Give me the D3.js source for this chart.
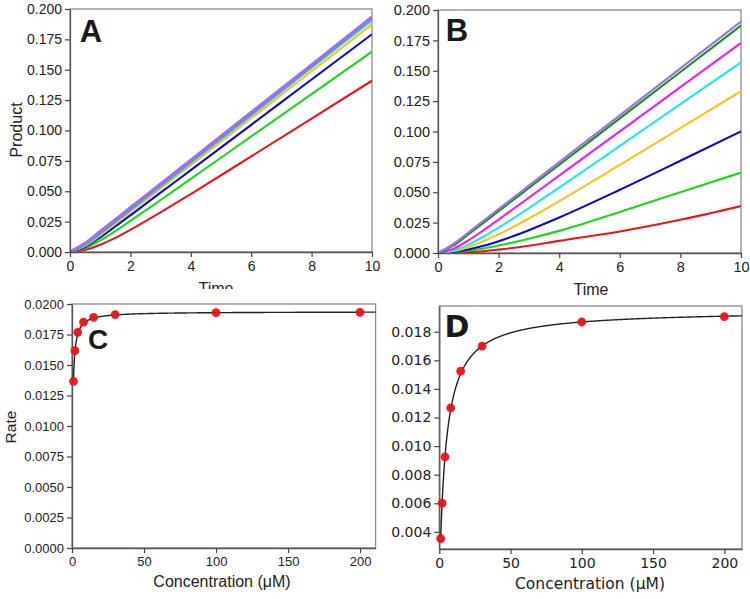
<!DOCTYPE html>
<html>
<head>
<meta charset="utf-8">
<script src="https://cdn.jsdelivr.net/npm/d3@7/dist/d3.min.js"></script>
<style>
  html, body { margin: 0; padding: 0; background: #fff; }
  svg { display: block; }
</style>
</head>
<body>
<svg id="chart" width="750" height="599"></svg>
<script>
// ---------------- DATA ----------------
const times = [0, 0.5, 1, 1.5, 2, 3, 4, 6, 8, 10];
const seriesColors = ["#e8161b", "#1ed41e", "#0a0acd", "#f7c31c", "#24e4ec", "#ec1ee6", "#1e8c1e", "#9b74dc"];

// Panel A: product vs time
const productA_red     = [0, 0.0017, 0.0059, 0.0116, 0.0182, 0.0326, 0.0477, 0.0787, 0.1098, 0.1410];
const productA_green   = [0, 0.0030, 0.0094, 0.0172, 0.0256, 0.0428, 0.0602, 0.0951, 0.1300, 0.1649];
const productA_blue    = [0, 0.0041, 0.0121, 0.0210, 0.0302, 0.0488, 0.0674, 0.1047, 0.1420, 0.1792];
const productA_gold    = [0, 0.0050, 0.0137, 0.0232, 0.0329, 0.0522, 0.0715, 0.1101, 0.1488, 0.1874];
const productA_cyan    = [0, 0.0055, 0.0147, 0.0244, 0.0342, 0.0537, 0.0732, 0.1123, 0.1514, 0.1904];
const productA_magenta = [0, 0.0062, 0.0157, 0.0255, 0.0353, 0.0549, 0.0745, 0.1137, 0.1530, 0.1922];
const productA_dkgreen = [0, 0.0066, 0.0163, 0.0261, 0.0359, 0.0555, 0.0751, 0.1143, 0.1535, 0.1927];
const productA_purple  = [0, 0.0070, 0.0167, 0.0265, 0.0363, 0.0559, 0.0755, 0.1147, 0.1539, 0.1932];

// Panel B: product vs time
const productB_red     = [0, 0.0002, 0.0007, 0.0015, 0.0028, 0.0060, 0.0100, 0.0177, 0.0273, 0.0386];
const productB_green   = [0, 0.0005, 0.0018, 0.0037, 0.0061, 0.0118, 0.0182, 0.0338, 0.0500, 0.0662];
const productB_blue    = [0, 0.0008, 0.0029, 0.0059, 0.0097, 0.0188, 0.0292, 0.0520, 0.0759, 0.1001];
const productB_gold    = [0, 0.0014, 0.0048, 0.0096, 0.0153, 0.0284, 0.0427, 0.0725, 0.1028, 0.1332];
const productB_cyan    = [0, 0.0021, 0.0069, 0.0134, 0.0208, 0.0370, 0.0538, 0.0881, 0.1225, 0.1569];
const productB_magenta = [0, 0.0034, 0.0103, 0.0187, 0.0275, 0.0455, 0.0637, 0.1001, 0.1365, 0.1729];
const productB_dkgreen = [0, 0.0060, 0.0153, 0.0248, 0.0344, 0.0535, 0.0726, 0.1108, 0.1490, 0.1872];
const productB_purple  = [0, 0.0072, 0.0168, 0.0264, 0.0361, 0.0554, 0.0747, 0.1133, 0.1519, 0.1905];

// Panels C & D: rate vs concentration
const concentrations = [1, 2, 4, 8, 15, 30, 100, 200];
const rateC = [0.01366, 0.01617, 0.01768, 0.01852, 0.01891, 0.01913, 0.01929, 0.01932];
const rateD = [0.00353, 0.00601, 0.00924, 0.01267, 0.01524, 0.01699, 0.01868, 0.01905];
// Michaelis-Menten fit parameters [C, D]
const fitVmax = [0.01937, 0.01951];
const fitKm = [0.42, 4.43];

// Tick labels
const timeTicks = [0, 2, 4, 6, 8, 10];
const productTicks = [0, 0.025, 0.05, 0.075, 0.1, 0.125, 0.15, 0.175, 0.2];
const concTicks = [0, 50, 100, 150, 200];
const rateTicksC = [0, 0.0025, 0.005, 0.0075, 0.01, 0.0125, 0.015, 0.0175, 0.02];
const rateTicksD = [0.004, 0.006, 0.008, 0.010, 0.012, 0.014, 0.016, 0.018];

// ---------------- DRAW ----------------
const svg = d3.select("#chart");
const HELV = "'Liberation Sans', Arial, Helvetica, sans-serif";
const DEJA = "'DejaVu Sans', sans-serif";
const textColor = "#222";

function frame(g, x0, x1, y0, y1) {
  g.append("rect").attr("x", x0).attr("y", y1).attr("width", x1 - x0).attr("height", y0 - y1)
    .attr("fill", "none").attr("stroke", "#8c8c8c").attr("stroke-width", 1.3);
}

function axes(g, x, y, xt, yt, xfmt, yfmt, font, fsize) {
  const yr = y.range(), xr = x.range();
  const ax = g.append("g").attr("transform", `translate(0,${yr[0]})`)
    .call(d3.axisBottom(x).tickValues(xt).tickFormat(xfmt).tickSize(5).tickPadding(4).tickSizeOuter(0));
  const ay = g.append("g").attr("transform", `translate(${xr[0]},0)`)
    .call(d3.axisLeft(y).tickValues(yt).tickFormat(yfmt).tickSize(5).tickPadding(3).tickSizeOuter(0));
  [ax, ay].forEach(a => {
    a.select(".domain").attr("stroke", "#555").attr("stroke-width", 1.3);
    a.selectAll(".tick line").attr("stroke", "#444").attr("stroke-width", 1.2);
    a.selectAll(".tick text").attr("fill", textColor).style("font-family", font).style("font-size", fsize + "px");
  });
}

function label(txt, x, y, size, font, opts = {}) {
  const t = svg.append("text").attr("x", x).attr("y", y).text(txt)
    .attr("fill", opts.fill || textColor)
    .style("font-family", font).style("font-size", size + "px")
    .attr("text-anchor", opts.anchor || "middle");
  if (opts.bold) t.style("font-weight", "bold");
  if (opts.rotate) t.attr("transform", `rotate(-90,${x},${y})`);
  return t;
}

function progressPanel(xr, yr, series, purpleWidth, ytickSize) {
  const x = d3.scaleLinear().domain([0, 10]).range(xr);
  const y = d3.scaleLinear().domain([0, 0.2]).range(yr);
  const g = svg.append("g");
  frame(g, xr[0], xr[1], yr[0], yr[1]);
  const clipId = "clip" + Math.round(xr[0]);
  svg.append("clipPath").attr("id", clipId).append("rect")
    .attr("x", xr[0]).attr("y", yr[1]).attr("width", xr[1] - xr[0]).attr("height", yr[0] - yr[1]);
  const line = d3.line().x((d, i) => x(times[i])).y(d => y(d)).curve(d3.curveMonotoneX);
  const lg = g.append("g").attr("clip-path", `url(#${clipId})`);
  series.forEach((s, i) => {
    lg.append("path").datum(s).attr("d", line).attr("fill", "none")
      .attr("stroke", seriesColors[i])
      .attr("stroke-width", i === series.length - 1 ? purpleWidth : 2.1)
      .attr("stroke-linejoin", "round");
  });
  axes(g, x, y, timeTicks, productTicks, d3.format("d"), d3.format(".3f"), HELV, ytickSize);
  return { x, y };
}

// Panel A
progressPanel([70, 372], [252, 9],
  [productA_red, productA_green, productA_blue, productA_gold, productA_cyan, productA_magenta, productA_dkgreen, productA_purple],
  3.4, 14);
label("A", 91, 42, 31, HELV, { bold: true, fill: "#1a1a1a" });
label("Product", 22, 130, 16, HELV, { rotate: true });
svg.append("clipPath").attr("id", "timeClipA").append("rect").attr("x", 150).attr("y", 270).attr("width", 140).attr("height", 19);
label("Time", 216, 294, 16, HELV).attr("clip-path", "url(#timeClipA)");

// Panel B
progressPanel([438, 741], [253, 10],
  [productB_red, productB_green, productB_blue, productB_gold, productB_cyan, productB_magenta, productB_dkgreen, productB_purple],
  2.2, 14.5);
label("B", 457, 41, 31, HELV, { bold: true, fill: "#1a1a1a" });
label("Time", 591, 295, 16, HELV);

// Rate panels
function ratePanel(xr, yr, ydom, rates, fi, yticks, yfmt, font, fsize) {
  const x = d3.scaleLinear().domain([0, xr[2]]).range([xr[0], xr[1]]);
  const y = d3.scaleLinear().domain(ydom).range(yr);
  const g = svg.append("g");
  frame(g, xr[0], xr[1], yr[0], yr[1]);
  axes(g, x, y, concTicks, yticks, d3.format("d"), yfmt, font, fsize);
  const cs = d3.range(concentrations[0], xr[2] + 0.001, 0.1);
  const fit = d3.line().x(c => x(c)).y(c => y(fitVmax[fi] * c / (fitKm[fi] + c)));
  g.append("path").datum(cs).attr("d", fit).attr("fill", "none").attr("stroke", "#222").attr("stroke-width", 1.4);
  g.selectAll("circle.pt").data(rates).enter().append("circle")
    .attr("cx", (d, i) => x(concentrations[i])).attr("cy", d => y(d)).attr("r", 4.4)
    .attr("fill", "#e8141c").attr("fill-opacity", 0.95);
  return { x, y };
}

// Panel C
ratePanel([72, 375.6, 210.8], [548, 304], [0, 0.02], rateC, 0, rateTicksC, d3.format(".4f"), HELV, 13);
label("C", 98, 349, 28, HELV, { bold: true, fill: "#1a1a1a" });
label("Rate", 16, 427, 15.5, HELV, { rotate: true });
label("Concentration (μM)", 222, 587, 16, HELV);

// Panel D
ratePanel([439.3, 742, 212.4], [549, 306], [0.0028, 0.0198], rateD, 1, rateTicksD, d3.format(".3f"), DEJA, 14);
label("D", 457, 337, 30, DEJA, { bold: true, fill: "#1a1a1a" });
label("Concentration (μM)", 590, 589, 15.5, DEJA);
</script>
</body>
</html>
